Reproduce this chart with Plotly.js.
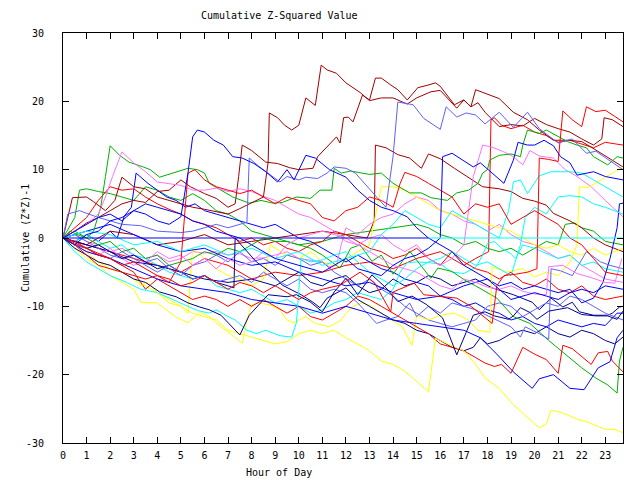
<!DOCTYPE html>
<html>
<head>
<meta charset="utf-8">
<script src="https://cdn.plot.ly/plotly-3.0.1.min.js"></script>
<style>html,body{margin:0;padding:0;background:#fff;}#chart{width:640px;height:480px;}</style>
</head>
<body>
<div id="chart"></div>
<script>
// ---- data (hour of day, cumulative (Z*Z)-1) ----
const hourTicks = [0,1,2,3,4,5,6,7,8,9,10,11,12,13,14,15,16,17,18,19,20,21,22,23];
const valueTicks = [-30,-20,-10,0,10,20,30];

const darkRedAHours = [0,0.5,1,1.5,2,2.5,3,3.5,4,4.5,5,5.4,6,6.5,7,7.3,7.45,7.6,8.0,8.6,9.1,9.6,10.0,10.6,10.8,11.3,11.6,11.75,11.9,12.1,12.3,12.7,13.0,13.25,13.5,13.9,14.2,14.6,15.05,15.4,15.8,16.0,16.6,17.0,17.3,17.5,17.9,18.5,19.1,19.7,20.2,20.8,21.5,22.0,22.4,23.0,23.75];
const darkRedAValues = [0,1,2.2,3,4,5,5.5,5.2,6.8,7,8.5,7.5,6.5,5.8,4.5,5,9,13.6,12.8,11.1,10.9,10.3,10.0,10.2,11.9,13.8,14.8,13.9,17.6,17.7,17,20.9,20.2,23.4,23.4,22.4,21.7,20.2,22,22.3,22.7,22.2,19.5,20.2,19.2,21.7,21.2,20.4,18.4,17.3,15.8,14.3,14.3,14.1,13.3,12,10.4];

const darkRedBHours = [0,0.4,1,1.3,1.8,2.2,2.5,3,3.5,4,4.5,5,5.5,6,6.5,7,7.5,8,8.5,8.7,8.75,9.1,9.4,9.7,10.0,10.3,10.7,10.95,11.2,11.6,12.0,12.6,13.0,13.5,14.0,14.6,15.0,15.6,16.0,16.7,17.0,17.3,17.6,17.9,18.5,19.0,19.5,20.0,20.5,21.0,21.5,22.0,22.5,22.85,22.95,23.3,23.75];
const darkRedBValues = [0,5.9,6,5.3,4,5.5,8.9,7.5,7.2,6,5.5,5,4.5,4.2,3.8,3.5,4.3,5.2,6,11.1,18.3,17.6,16.5,15.8,16.5,20.5,19.4,25.3,24.6,24.1,22.7,21.3,20.1,20.5,20.5,19.6,20.5,21.4,21.6,19,20.2,19.2,19.8,18.4,16.3,16.6,16.4,17.5,16.6,16,15.5,14.5,13.6,14.5,17.6,17.3,16.3];

const darkRedCHours = [0,1,2,3,4,5,6,7,8,9,10,11,12,12.9,13.2,13.25,13.7,14.2,14.7,15.2,15.5,16,16.6,17.2,17.8,18.5,19,19.5,20,20.5,20.8,21.5,22,22.5,23,23.75];
const darkRedCValues = [0,-1,1,0.5,-1,-0.5,0.5,-1,-0.5,0,0.5,1,0.5,0,2.5,13.6,13.2,12.2,11.7,10.2,12.3,11.6,10.2,8.8,7.5,7.2,6.8,5.8,5.4,4.8,3.6,2.5,1.5,0,-1,-2];

const redAHours = [0,1,2,3,4,5,6,7,8,9,10,11,12,13,14,15,16,17,17.5,18.05,18.15,18.3,18.6,19.0,19.5,20,20.5,21,21.5,22,22.5,23,23.75];
const redAValues = [0,-1,-2,-3,-4,-5,-3,-4,-6,-5,-5.5,-5,-4,-3.5,-4.5,-3,-2,-4,-3,-2,17.3,17.6,16.5,16,16.5,15.5,15,14,14.3,13.8,13.2,14,13.6];

const redBHours = [0,0.5,1,1.5,2,2.5,3,3.5,4,4.5,5,5.5,6,6.5,7,7.5,8,8.5,9,9.5,10,10.5,11,11.75,12.6,13.2,13.6,13.9,14.0,14.9,15.3,16.0,16.7,17.3,17.9,18.2,18.4,18.7,19.2,19.7,20.1,20.2,20.6,21.0,21.2,21.6,22.0,22.2,22.6,23.0,23.4,23.75];
const redBValues = [0,-0.5,-1.5,-2.5,-3,-4,-3.5,-4.5,-5.5,-6,-7,-6.5,-5.5,-6.5,-7.5,-6.5,-7,-8,-7,-8,-9,-8,-7.5,-6.9,-5,-6.5,-9,-10.8,-7.9,-6.6,-8.3,-8.5,-8.8,-10,-11.7,-12.5,-7,-5.5,-5.3,-5,-4.5,11.7,11.5,11.2,18.6,17.3,16.3,19.2,18.5,18.7,17.8,17];

const redCHours = [0,0.5,1,1.5,2,2.5,3,3.5,4,4.5,5,5.3,5.6,6,6.5,7,7.5,8,8.5,9,9.5,10,10.5,11,11.5,12,12.5,13,13.5,14,14.3,14.5,15,15.5,16,16.5,17,17.5,18,18.5,19,19.5,20,20.5,21,21.5,22,22.5,23,23.75];
const redCValues = [0,-1,-2.5,-4,-4.5,-5,-5.5,-6,-5.5,-6.5,-3.5,9.5,10,8.5,7.5,7,6.5,7,6,5,6,5.5,5,3,2.5,4,4.5,6,5.5,4.5,8,9.6,9,8,7,6,3.5,5,4.5,5,2,3,4,3,2,0,-1,-3,-5,-5.5];

const redDHours = [0,1,2,3,3.5,4,4.5,5,5.5,6,6.5,7,7.5,8,8.5,9,9.5,10,10.5,11,11.5,12,12.5,13,13.5,14,14.5,15,15.5,16,16.5,17,17.5,17.9,18.3,18.6,19,19.5,20,20.5,21.0,21.2,21.6,22,22.4,22.7,23.1,23.3,23.75];
const redDValues = [0,-1.5,-3,-5,-7.5,-6,-7,-8,-9,-8.5,-9,-10,-9,-10,-9,-10,-11,-10,-11.5,-12,-11,-10,-8.5,-9,-10,-11,-12,-13,-14,-15.5,-16,-16.5,-17.5,-18.3,-18.8,-18.5,-19.8,-16,-17,-17.8,-19.8,-15.7,-16.2,-17.4,-18.5,-16.8,-16.6,-18,-19.6];

const redEHours = [0,0.5,1,1.5,2,2.5,3,3.5,4,4.5,5,5.5,6,6.5,7,7.5,8,8.5,9,9.5,10,10.5,11,11.5,12,12.5,13,13.5,14,14.5,15,15.5,16,16.5,17,17.5,18,18.5,19,19.5,20,20.5,21,21.5,22,22.5,23,23.75];
const redEValues = [0,1.5,3,5.5,7.5,7,7.2,6,5,4.2,3.5,2.5,2,1.5,0.5,-0.5,0,-1,-0.5,-1.5,-2,-1,-0.5,1,0.5,-0.5,-1.5,-2,-3,-2.5,-1.5,-3,-4,-2,-3.5,-4.5,-5,-6,-5,-6.5,-7,-6,-7.5,-8,-7,-8.5,-9,-8.5];

const greenAHours = [0,0.3,0.6,1,1.3,1.6,1.8,2.0,2.4,2.8,3.4,3.7,4.1,4.7,5.3,5.7,6.0,6.2,6.7,7.2,7.9,8.4,8.9,9.3,9.9,10.5,10.9,11.4,11.5,11.8,12.2,12.6,13.0,13.5,14.0,14.7,15.2,15.6,16.3,16.7,17.2,17.6,17.8,18.0,18.1,18.5,19.0,19.4,19.5,19.7,20.2,20.5,21.4,21.8,22.2,22.5,23.1,23.5,23.75];
const greenAValues = [0,1,0.5,0,1,4.5,9,13.5,12.1,11.1,10.4,10,8.9,9.5,10.2,10,9.5,8,7,6,5.1,5.5,5.1,5.2,6,5.8,7,7,10.2,9.5,9.8,9.5,9.3,9.5,8,6.6,6.6,5.9,5.5,6.6,7,8,9.5,10,11.4,12.1,12.3,11.9,13.6,15.8,15.3,15.8,14.1,13.6,13.2,11.9,10.7,11.9,11.7];

const greenBHours = [0,0.5,0.7,1,1.5,2,2.5,3,3.5,4,4.5,5,5.5,6,6.5,7,7.5,8,9,10,11,12,13,14,15,15.5,16,16.5,17,17.5,18,18.5,19,19.5,20,20.5,21,21.3,21.7,22,22.5,23,23.75];
const greenBValues = [0,3,7,7.2,6.8,6.5,6,5.5,7.5,7,6,5.5,6.5,5.5,4,3.5,2.5,1,0,-1,-0.5,0.5,1,1.5,2,1.5,0.5,0,-1,-0.5,-1.5,-2,-1.5,-2.5,-1.5,-0.5,-1,2,2.2,1.5,1,-0.5,-1];

const greenCHours = [0,0.5,1,1.5,2,2.5,3,3.5,4,4.5,5,5.5,6,6.5,7,7.5,8,8.5,9,9.5,10,10.5,11,11.75,12.2,12.6,13.1,13.5,14.0,14.7,15.6,15.9,16.5,17.1,17.5,18.0,18.4,19.1,19.8,20.6,21.3,22.0,22.6,23.1,23.5,23.6,23.75];
const greenCValues = [0,1,0,-1,-0.5,-2,-1.5,-3,-2.5,-4,-3.5,-3,-2,-2.5,-1.5,-2,-1,0,-0.5,-0.5,-1,-1.5,-2.5,-4.4,-1.5,-1,-3.4,-2.5,-5.3,-1.9,-5.9,-4.4,-4.9,-6.3,-7,-8,-8.8,-11.5,-12.5,-15,-17,-19,-20.5,-21.5,-22.7,-18,-16];

const blueAHours = [0,0.5,1,1.5,2,2.5,3,3.5,4,4.5,5.0,5.3,5.5,5.7,6.0,6.4,6.8,7.2,7.6,8.1,8.6,9.1,9.5,9.8,10.3,10.7,11.3,12.0,12.5,13,13.5,14,14.6,15,15.5,16,16.5,17,17.5,18,18.5,19,19.5,20,20.5,21,21.5,22,22.5,23,23.75];
const blueAValues = [0,-1,0.5,1,2.5,3,4,3.5,2.5,2,3.1,9.5,14.8,15.8,15.5,14.3,13.6,11.9,11.7,10.9,9.7,8.2,10,8.5,12.1,11.7,10,8.9,7,5.5,4.5,4,3.1,1.5,0,-1,-2,-4,-5,-6,-7.5,-9,-8.5,-8,-8.5,-9,-8,-7.5,-8,-7,-7.5];

const blueBHours = [0,1,2,3,4,5,6,7,8,9,10,11,12,13,14,15,16,17,17.7,18.4,19.1,19.9,20.2,20.8,21.5,22.1,22.7,23.2,23.5,23.75];
const blueBValues = [0,-2,-3,-4.5,-6,-7,-7.5,-8,-9,-9.5,-10,-11,-10,-11,-12,-12.5,-13,-13.5,-14.6,-17,-19.6,-22,-20.6,-20,-22,-22.2,-19,-18.1,-14.6,-13.5];

const blueCHours = [0,1,2,3,4,5,6,7,8,9,10,11,12,13,14,15,16,17,18,18.5,19,19.5,20,20.5,21,21.5,22,22.5,22.9,23.2,23.5,23.6,23.75];
const blueCValues = [0,1,2,0.5,-1,-2,-1.5,-3,-4,-3.5,-5,-6,-7,-6.5,-8,-9,-8.5,-7,-6,-7,-6.5,-7.5,-7,-7.5,-8,-7.5,-9.5,-8.8,-6.5,-3,1.5,5,5.1];

const blueDHours = [0,0.5,1,1.5,2,2.5,3,3.5,4,4.5,5,5.5,6,6.5,7,7.5,8,8.5,9,9.5,10,10.5,11,11.5,12,12.5,13,13.5,14,14.5,15,15.5,16,16.1,16.5,17.1,17.4,17.7,18.2,18.7,19.1,19.3,19.7,20,20.4,20.8,21.1,21.5,21.8,22.5,23,23.75];
const blueDValues = [0,1,2,3,3.5,2.5,4,5,4.5,4,3.5,2.5,2,1,0.5,0,-1,-2,-3,-3.5,-4,-4.5,-5,-4,-3,-4.5,-5,-5.5,-4,-3,-2.5,-1.5,0,11.9,12.4,11,10.4,11,9.5,8,11.4,14,13.6,13.6,14.3,13.5,11.9,11,9.2,9.7,9,8.5];

const blueEHours = [0,0.5,1,1.5,2,2.3,2.6,2.9,3.1,3.6,4,4.4,4.8,5.2,5.6,6,6.5,7,7.5,8,8.5,9,9.5,10,10.5,11,11.5,12,12.5,13,13.5,14,14.5,15,15.5,16,16.5,17,17.5,18,18.5,19,19.5,20,20.5,21,21.5,22,22.5,23,23.5,23.75];
const blueEValues = [0,-0.5,0.5,-0.5,1,0,3.2,4.5,9.5,8,7,6,5.5,4.5,5,4,3.5,3,2.5,2,1.5,2,1,0,-0.5,-1.5,-2.5,-3.5,-2.5,-3.5,-4.5,-5,-6,-6.5,-7,-8.5,-9,-10,-9.5,-10.5,-11,-12,-11.5,-12.5,-13,-12,-12.5,-13,-12.5,-12.8,-11,-11];

const navyAHours = [0,0.5,1,1.5,2,2.5,3,3.5,4.1,4.8,5.3,5.8,6.2,6.7,7.1,7.5,7.9,8.7,9.5,9.9,10.5,11.0,11.5,12.0,12.5,13.1,13.7,14.2,14.8,15.4,16.1,16.7,17.1,17.4,17.9,18.3,18.9,19.1,19.4,19.8,20.1,20.6,21.4,22.0,22.6,23.1,23.5,23.75];
const navyAValues = [0,-1.5,-2.5,-3.5,-4,-5,-6,-6.5,-7.9,-8.6,-9.5,-10.1,-10.5,-11.3,-12.7,-14.2,-11.3,-8.3,-8.6,-8.3,-9.4,-10.8,-7.9,-5.9,-8.3,-5.4,-7.3,-9.3,-8.5,-9.7,-11.7,-17.1,-13.8,-11.3,-10.8,-11.4,-11.9,-11.4,-10.2,-10.9,-11.9,-10.7,-10.2,-11.2,-11.4,-11.4,-11.9,-10.7];

const navyBHours = [0,1,2,3,4,5,6,7,8,9,9.5,10,10.5,11,11.5,12,12.5,13,13.5,14,14.5,15,15.5,16,16.5,17,17.5,17.7,18.2,19.1,19.9,20.2,20.7,21.2,21.6,21.9,22.5,23.1,23.3,23.6,23.75];
const navyBValues = [0,-1,-2,-3.5,-4,-5,-6,-6.5,-6,-7,-6,-5,-6.5,-7,-6,-5.5,-7,-8,-7.5,-6,-7,-6.5,-5.5,-6,-7,-6.5,-6,-6.4,-7.3,-8.3,-9.4,-10.5,-8.8,-10.1,-9.4,-10.8,-11.3,-11.3,-11,-10.1,-10];

const navyCHours = [0,0.5,1,1.5,2,2.5,3,3.5,4,4.5,5,5.5,6,6.5,7,7.25,7.3,7.8,8.2,8.8,9.3,10.1,10.6,10.9,11.2,12.0,12.5,13,13.5,14,14.5,15,15.5,16,16.5,17,17.4,17.7,18,18.5,19,19.5,20,20.5,21,21.5,22,22.5,23,23.4,23.75];
const navyCValues = [0,-1,-1.5,-1,-2,-3,-2.5,-3.5,-4.5,-4,-5,-6,-5.5,-6.5,-7,-7.3,0,-2,-3.5,-5,-6.9,-8.3,-9.4,-10.2,-8.8,-7.3,-9,-10,-11,-12,-12.5,-13.5,-14,-15,-16,-16.5,-16,-14.6,-15.5,-15,-14,-13.5,-14,-13,-14,-14.5,-13.5,-14,-15,-15.5,-14.5];

const lightBlueAHours = [0,0.2,0.7,1.5,2.5,3.3,4,5,5.5,6,6.5,7,7.5,7.8,7.9,8.3,9.2,9.5,10.0,10.3,10.8,11.2,11.5,12,12.4,12.9,13.3,13.7,14.0,14.2,14.85,15.3,16.0,16.25,16.7,17.1,17.5,17.9,18.5,19.1,19.7,20.2,21,21.6,22.2,22.6,23,23.75];
const lightBlueAValues = [0,3.5,4,3,2,1.8,1,0.8,1,1.5,2,1.5,2,2.3,11.7,10.5,8.2,9,8.5,8.9,8.7,9.5,10.4,10.2,9.5,7.5,6,4.5,12,19.9,19.5,17.5,15.9,19.2,17.7,18.3,18,16.7,18.4,16.2,18.4,16,13.9,14.5,12.4,12.7,11.8,10];

const lightBlueBHours = [0,0.5,1,1.5,2,2.5,3,3.5,4,4.5,5,5.5,6,6.5,7,7.5,8,8.5,9,9.5,10,10.5,11,11.5,12,12.5,12.9,13.3,13.7,14.2,14.7,15,15.5,16,16.5,17,17.5,17.9,18.4,19,19.4,19.6,20.2,20.6,20.7,21.1,21.6,22.2,22.8,23.2,23.75];
const lightBlueBValues = [0,-1,-1.5,-2.5,-3,-2,-3,-4,-5,-4,-5,-6,-5.5,-6.5,-6,-5.5,-6.5,-5,-6,-7,-6,-7.5,-8,-7.5,-8,-9.5,-11,-12.5,-12,-11.5,-9.5,-11.5,-10,-11,-9.5,-10,-10.5,-11.2,-12,-13,-14.5,-13,-14,-14.8,-4.5,-4.8,-5.5,-2,-3.5,-4,-4.5];

const lightBlueCHours = [0,0.5,1,1.5,2,2.5,3,3.5,4,4.5,5,5.5,6,6.5,7,7.5,8,8.5,9,9.5,10,10.5,11,11.5,12,12.5,13,13.5,14,14.5,15,15.5,16,16.5,17,17.5,18,18.5,19,19.5,20,20.5,21,21.5,22,22.5,23,23.75];
const lightBlueCValues = [0,0.5,-0.5,-1.5,-2.5,-3,-2.5,-3.5,-3,-4.5,-5.5,-4,-3.5,-2.5,-3.5,-2,-3.5,-3,-4,-2.5,-3,-4,-3.5,-5,-6,-7,-6,-7.5,-8.5,-10,-11,-12,-12.5,-13,-12.5,-12,-10,-9.5,-10,-11.5,-10.5,-9.5,-10,-8.5,-9,-10,-11,-12];

const magentaAHours = [0,0.5,1,1.5,1.8,2.1,2.5,3,3.5,4,4.5,5,5.5,6,6.5,7,7.5,8,8.5,9,9.5,10,10.5,11,11.5,12,12.5,13,13.5,14,14.5,15,15.5,16,16.5,17,17.5,18,18.5,19,19.5,20,20.5,20.6,21.2,21.8,22.4,23,23.4,23.7];
const magentaAValues = [0,1,2,3.5,6,9,12.6,11,9.7,8.2,8,7.7,7,7,7.3,6.8,7.2,6.8,6.1,5.5,4.5,3.5,3,2,1,-0.5,-1,-2,-3,-4,-4.5,-5,-6,-7,-7.5,-6,-6.5,-7.2,-7.5,-7,-7.8,-8.2,-8.3,-4.2,-4,-5.2,-5.8,-6.5,-6.6,-3];

const magentaBHours = [0,0.5,1,1.5,2,2.5,3,3.5,4,4.5,5,5.5,6,6.5,7,7.5,8,8.5,9,9.5,10,10.5,11,11.5,12,12.5,13,13.5,14,14.5,15,15.5,16,16.5,17,17.4,17.8,18.2,18.7,19.1,19.5,19.8,20.2,20.8,21.3,21.8,22.4,23,23.75];
const magentaBValues = [0,-1,-2,-2.5,-1.5,-3,-4,-3.5,-2,-3,-2.5,-4,-3,-4.5,-3,-4,-3.5,-2,-3,-1,0,0.5,1,0.5,0,-1,0,0.5,-1,-2,-1,-3,-4,-3,-1,9,13.6,13.3,12.6,11.9,10.7,12.8,12,11.7,10,9,7.5,5.5,3.1];

const magentaCHours = [0,0.5,1,1.5,2,2.5,3,3.5,4,4.5,5,5.5,6,6.5,7,7.5,8,8.5,9,9.5,10,10.5,11,11.3,11.6,11.8,12.0,12.5,13,13.5,14,14.5,15,15.5,16,16.5,17,17.5,18,18.5,19,19.5,20,20.5,21,21.5,22,22.5,23,23.75];
const magentaCValues = [0,0.5,-0.5,-1,-2,-1.5,-2.5,-3,-2.5,-3.5,-3,-2,-2.2,-2,-2.5,-2.3,-3,-2.9,-2.5,-2,-3,-3.3,-3.5,-4.2,-4,-1,1.5,0.5,2,3,3.5,5,6,5.5,4,3.5,2.5,2,1,2,0.5,-0.5,-1,-2,-3,-2.5,-4,-5,-6,-6.5];

const cyanAHours = [0,0.5,1,1.5,2,2.7,3.3,4,4.5,5,5.7,6.2,6.5,7,7.3,7.8,8.2,8.6,9.2,9.7,9.9,10.1,10.5,11,11.5,12,12.5,13,13.5,14,14.5,15,15.5,16,16.5,17,17.5,18,18.5,19,19.4,19.6,20,20.5,21,21.5,22,22.5,23,23.75];
const cyanAValues = [0,-2,-3.5,-4.5,-5.5,-6.5,-7.5,-8,-8.8,-9.5,-10.6,-11,-10.5,-11.5,-12,-13.5,-14,-13.5,-14.3,-14.5,-12.4,-3,-3.5,-3.2,-2.5,-2,-3.5,-5,-6,-7,-6,-4.5,-3.5,-3,-2,-3,-4,-3.5,-4.5,-5.5,-1,3,4.5,3.5,6,6.2,6,5,4.5,3.5];

const cyanBHours = [0,1,2,3,4,5,6,7,8,9,10,11,12,13,13.5,14,14.5,15,15.5,16,16.5,17,17.5,18,18.5,18.9,19.1,19.4,19.7,20.2,20.7,21.5,22,22.5,23,23.75];
const cyanBValues = [0,1,0.5,-1,-0.5,-2,-1,-2.5,-1.5,-3,-2,-4,-3,-2,0.5,2,4,3,2,1.5,4,3,2,1,0,4,8.2,8.5,6.5,9.1,9.7,9.7,9.5,8.5,7.5,6];

const cyanCHours = [0,0.5,1,1.5,2,2.5,3,3.5,4,4.5,5,5.5,6,6.5,7,7.5,8,8.5,9,9.5,10,10.5,11,11.5,12,12.5,13,13.5,14,14.3,14.6,15,15.5,16,16.5,17,17.5,17.8,18.0,18.3,18.6,19,19.2,19.5,20,20.5,21,21.5,22,22.5,23,23.75];
const cyanCValues = [0,-0.5,0.5,-0.5,-1.5,-1,-2.5,-3,-4,-5,-5.5,-6,-5.5,-7,-7.5,-8,-7.5,-8.5,-9.5,-9,-10,-11,-10.5,-9.5,-9,-8,-8.5,-9,-7.5,-5,-3.6,-3.5,-3.6,-3.8,-5,-5.2,-4.3,-2.5,-0.8,-0.5,-1.5,-2.3,-3,-1,-1.5,-2.2,-3,-2.5,-4,-3.5,-4.5,-5];

const yellowAHours = [0,0.5,1,1.5,2,2.5,3,3.3,3.6,4,4.5,5,5.5,6,6.5,7,7.5,8,8.5,9,9.5,10,10.5,11,11.5,12,12.5,13,13.5,14,14.5,15,15.5,15.8,16.3,17,17.5,17.9,18.5,19.1,19.6,20.2,20.5,20.7,21.2,21.8,22.3,23,23.4,23.75];
const yellowAValues = [0,-1,-2.5,-3.5,-4.5,-5,-6,-7,-6.5,-8,-9.5,-10,-11,-11.5,-12,-13.5,-14,-14.5,-15,-15.5,-15.2,-14,-13.5,-14,-13.5,-14.6,-15.5,-16.5,-18,-18.5,-19.5,-21,-22.5,-14.6,-15.5,-16.5,-18.5,-20.5,-22,-24.4,-26,-27.8,-27.2,-25.2,-25.6,-26.5,-27,-28,-28,-28.5];

const yellowBHours = [0,0.5,1,1.5,2,2.5,3,3.3,4,4.8,5.3,5.6,5.8,6.2,6.7,7.2,7.6,7.8,8.0,8.3,8.8,9.2,9.5,9.8,10.3,10.7,11.3,11.8,12.0,12.3,12.7,13.1,13.7,14.4,14.8,15.0,15.5,16.0,16.6,17.2,17.6,18.1,18.2,18.8,19.5,20,20.5,21,21.5,21.8,21.9,22.3,22.8,23.3,23.75];
const yellowBValues = [0,-1.5,-3,-4,-5.5,-6.5,-7.5,-9.4,-9.5,-11.6,-12.4,-11.5,-10.8,-11.5,-13,-14.3,-15.4,-12,-9.8,-9.5,-9.8,-10.5,-12,-12.4,-11.5,-12.5,-13,-12,-11,-10,-9.5,-10,-11.5,-13,-15.7,-11.3,-12,-11.3,-11,-12,-13.5,-13.8,-4.2,-5,-4.5,-5.7,-5,-5.5,-3.5,-1,7.5,7.4,8.5,9.5,10.4];

const yellowCHours = [0,0.5,1,1.5,2,2.5,3,3.5,4,4.5,5,5.3,5.5,6,6.5,7,7.5,8,8.5,8.8,9,9.5,10,10.5,11,11.5,12,12.5,13,13.5,14,14.5,15,15.5,16,16.5,17,17.5,18,18.5,19,19.5,20,20.5,21,21.5,22,22.5,23,23.75];
const yellowCValues = [0,-1,-2,-3.5,-4,-5,-6,-7,-8,-9,-10,-11,-1.4,-3,-4.5,-5.5,-6,-7,-6,-1,-1.5,-2.5,-3,-2,-3.5,-4,-3,-2,-1,7.5,7.5,7,6,5,4,3.5,3,2.5,2,1.5,1,0,-1,-1.5,-1,-2,-2.5,-1.5,-2.5,-1.5];

const zeroBlueHours = [0,15.5];
const zeroBlueValues = [0,0];
const zeroCyanHours = [15.5,23.75];
const zeroCyanValues = [0,0];

// ---- styling (kept apart from the data) ----
const RED='#ff0000', GREEN='#00b000', BLUE='#0000ff', MAGENTA='#ff70ff', CYAN='#00ffff',
      DARKRED='#a00000', YELLOW='#ffff00', NAVY='#000090', LIGHTBLUE='#6060ff';

const series = [
  [redAHours, redAValues, RED],
  [greenBHours, greenBValues, GREEN],
  [blueEHours, blueEValues, BLUE],
  [magentaCHours, magentaCValues, MAGENTA],
  [cyanCHours, cyanCValues, CYAN],
  [darkRedCHours, darkRedCValues, DARKRED],
  [yellowCHours, yellowCValues, YELLOW],
  [navyBHours, navyBValues, NAVY],
  [lightBlueCHours, lightBlueCValues, LIGHTBLUE],
  [redEHours, redEValues, RED],
  [greenCHours, greenCValues, GREEN],
  [blueCHours, blueCValues, BLUE],
  [magentaBHours, magentaBValues, MAGENTA],
  [cyanBHours, cyanBValues, CYAN],
  [darkRedAHours, darkRedAValues, DARKRED],
  [yellowBHours, yellowBValues, YELLOW],
  [navyCHours, navyCValues, NAVY],
  [lightBlueBHours, lightBlueBValues, LIGHTBLUE],
  [redDHours, redDValues, RED],
  [greenAHours, greenAValues, GREEN],
  [blueBHours, blueBValues, BLUE],
  [magentaAHours, magentaAValues, MAGENTA],
  [cyanAHours, cyanAValues, CYAN],
  [darkRedBHours, darkRedBValues, DARKRED],
  [yellowAHours, yellowAValues, YELLOW],
  [navyAHours, navyAValues, NAVY],
  [lightBlueAHours, lightBlueAValues, LIGHTBLUE],
  [redCHours, redCValues, RED],
  [redBHours, redBValues, RED],
  [blueDHours, blueDValues, BLUE],
  [blueAHours, blueAValues, BLUE],
  [zeroCyanHours, zeroCyanValues, CYAN],
  [zeroBlueHours, zeroBlueValues, BLUE]
];

const traces = series.map(([x, y, c]) => ({
  type: 'scatter', mode: 'lines', x: x, y: y,
  line: {color: c, width: 1, shape: 'linear'},
  hoverinfo: 'skip'
}));

const FONT = 'DejaVu Sans Mono, Liberation Mono, monospace';
const layout = {
  width: 640, height: 480,
  margin: {l: 63, r: 17, t: 33, b: 37, pad: 0},
  paper_bgcolor: '#ffffff', plot_bgcolor: '#ffffff',
  showlegend: false,
  font: {family: FONT, size: 10, color: '#000'},
  xaxis: {
    range: [0, 23.75], tickmode: 'array', tickvals: hourTicks, ticktext: hourTicks.map(String),
    ticks: 'inside', ticklen: 6, tickwidth: 1, tickcolor: '#000',
    showline: true, linecolor: '#000', linewidth: 1, mirror: 'ticks',
    showgrid: false, zeroline: false, ticklabelstandoff: 3,
    tickfont: {family: FONT, size: 10, color: '#000'}
  },
  yaxis: {
    range: [-30, 30], tickmode: 'array', tickvals: valueTicks, ticktext: valueTicks.map(String),
    ticks: 'inside', ticklen: 6, tickwidth: 1, tickcolor: '#000',
    showline: true, linecolor: '#000', linewidth: 1, mirror: 'ticks',
    showgrid: false, zeroline: false, ticklabelstandoff: 16,
    tickfont: {family: FONT, size: 10, color: '#000'}
  },
  annotations: [
    {text: 'Cumulative Z-Squared Value', xref: 'paper', yref: 'paper', x: (279-63)/560, y: 1 + 17/410,
     xanchor: 'center', yanchor: 'middle', showarrow: false, font: {family: FONT, size: 10, color: '#000'}},
    {text: 'Hour of Day', xref: 'paper', yref: 'paper', x: (279-63)/560, y: -29/410,
     xanchor: 'center', yanchor: 'middle', showarrow: false, font: {family: FONT, size: 10, color: '#000'}},
    {text: 'Cumulative (Z*Z)-1', xref: 'paper', yref: 'paper', x: -38/560, y: 0.5, textangle: -90,
     xanchor: 'center', yanchor: 'middle', showarrow: false, font: {family: FONT, size: 10, color: '#000'}}
  ]
};

Plotly.newPlot('chart', traces, layout, {staticPlot: true, displayModeBar: false});
</script>
</body>
</html>
